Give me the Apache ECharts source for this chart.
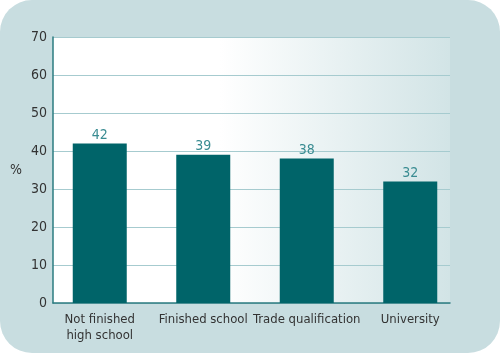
<!DOCTYPE html>
<html><head><meta charset="utf-8">
<script src="https://cdn.jsdelivr.net/npm/echarts@6/dist/echarts.min.js"></script>
<style>html,body{margin:0;padding:0;background:#fff}#c{width:500px;height:355px}</style>
</head><body><div id="c"></div>
<script>
const categories = ['Not finished\nhigh school', 'Finished school', 'Trade qualification', 'University'];
const values = [42, 39, 38, 32];
const yTicks = [0, 10, 20, 30, 40, 50, 60, 70];
const yName = '%';

const FONT = "'Liberation Sans Narrow', 'DejaVu Sans Condensed', sans-serif";
const chart = echarts.init(document.getElementById('c'), null, {renderer: 'canvas'});
const yMin = yTicks[0], yMax = yTicks[yTicks.length - 1], yStep = yTicks[1] - yTicks[0];
chart.setOption({
  animation: false,
  graphic: [{
    type: 'rect', z: -10, silent: true,
    shape: {x: 0, y: 0, width: 500, height: 353, r: 32},
    style: {fill: '#c8dde0'}
  }],
  grid: [
    {left: 48, right: 38, top: 37, bottom: 52, show: false},
    {left: 53, right: 50, top: 37, bottom: 52, show: true, borderWidth: 0,
     backgroundColor: {type: 'linear', x: 0, y: 0, x2: 1, y2: 0,
       colorStops: [{offset: 0, color: '#ffffff'}, {offset: 0.42, color: '#ffffff'}, {offset: 1, color: '#d2e4e6'}]}}
  ],
  xAxis: [
    {type: 'category', gridIndex: 0, data: categories,
     axisLine: {show: false}, axisTick: {show: false},
     axisLabel: {interval: 0, color: '#333', fontFamily: FONT, fontSize: 13, margin: 9, lineHeight: 16}},
    {type: 'value', gridIndex: 1, min: 0, max: 1, show: true,
     axisLine: {show: true, onZero: false, lineStyle: {color: '#2b7b80', width: 1.5}},
     axisTick: {show: false}, axisLabel: {show: false}, splitLine: {show: false}}
  ],
  yAxis: [
    {type: 'value', gridIndex: 0, min: yMin, max: yMax, interval: yStep, show: false},
    {type: 'value', gridIndex: 1, min: yMin, max: yMax, interval: yStep,
     name: yName, nameLocation: 'middle', nameRotate: 0, nameGap: 31,
     nameTextStyle: {color: '#333', fontFamily: FONT, fontSize: 14},
     axisLine: {show: true, lineStyle: {color: '#2b7b80', width: 1.5}},
     axisTick: {show: false},
     axisLabel: {color: '#333', fontFamily: FONT, fontSize: 14, margin: 6},
     splitLine: {show: true, lineStyle: {color: '#a6cbcf', width: 1.2}}}
  ],
  series: [{
    type: 'bar', xAxisIndex: 0, yAxisIndex: 0, data: values,
    barWidth: 54,
    itemStyle: {color: '#006469'},
    label: {show: true, position: 'top', distance: 1, color: '#3a8c92', fontFamily: FONT, fontSize: 14}
  }]
});
</script></body></html>
